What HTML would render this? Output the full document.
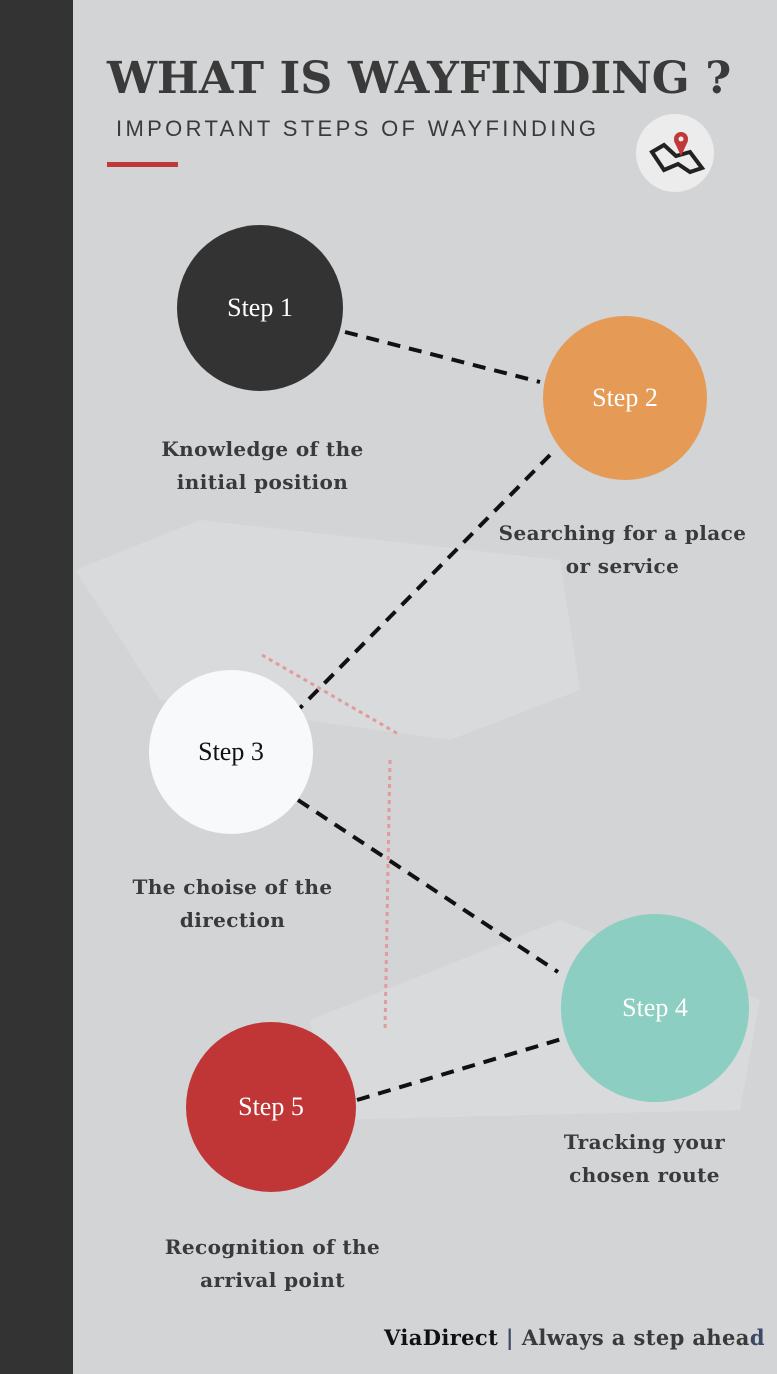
<!DOCTYPE html>
<html><head><meta charset="utf-8"><style>
body{margin:0;width:777px;height:1374px;background:#d3d4d6;position:relative;overflow:hidden;font-family:"Liberation Serif",serif}
.bar{position:absolute;left:0;top:0;width:73px;height:1374px;background:#333}
.t{position:absolute;color:#3a3a3a;white-space:nowrap}
.c{position:absolute;border-radius:50%;display:flex;align-items:center;justify-content:center;font-size:26px;color:#fff}
.lab{position:absolute;text-align:center;font-weight:bold;font-size:20px;letter-spacing:0.4px;color:#3a3a3a;line-height:33px;font-family:"DejaVu Serif","Liberation Serif",serif;white-space:nowrap}
</style></head><body>
<div class="bar"></div>
<svg width="777" height="1374" style="position:absolute;left:0;top:0">
<polygon points="75,570 200,520 560,560 580,690 450,740 160,700" fill="#dcdddf" opacity="0.6"/>
<polygon points="310,1020 560,920 760,1000 740,1110 330,1120" fill="#dcdddf" opacity="0.6"/>
<line x1="390" y1="760" x2="385" y2="1030" stroke="#e39a9a" stroke-width="3" stroke-dasharray="4,4"/>
<line x1="262" y1="655" x2="400" y2="735" stroke="#e39a9a" stroke-width="3" stroke-dasharray="4,4"/>
<g stroke="#111" stroke-width="4" stroke-dasharray="13,9">
<line x1="345" y1="332" x2="540" y2="382"/>
<line x1="550" y1="455" x2="300" y2="708"/>
<line x1="298" y1="800" x2="558" y2="972"/>
<line x1="357" y1="1100" x2="565" y2="1038"/>
</g>
<circle cx="675" cy="153" r="39" fill="#ececec"/>
<path d="M652 152 L664 145 L676 156 L690 152 L702 168 L690 172 L678 164 L664 170 Z" fill="none" stroke="#222" stroke-width="4"/>
<circle cx="681" cy="139" r="7" fill="#c0393a"/>
<path d="M674 141 L681 156 L688 141 Z" fill="#c0393a"/>
<circle cx="681" cy="139" r="2.5" fill="#ececec"/>
</svg>
<div class="t" style="left:107px;top:53px;font-size:44px;font-weight:bold;font-family:'DejaVu Serif','Liberation Serif',serif;transform-origin:0 0;transform:scaleX(1.01)">WHAT IS WAYFINDING ?</div>
<div class="t" style="left:116px;top:116px;font-size:22px;letter-spacing:3.35px;font-family:'Liberation Sans',sans-serif">IMPORTANT STEPS OF WAYFINDING</div>
<div style="position:absolute;left:107px;top:162px;width:71px;height:5px;background:#c0393a"></div>
<div class="c" style="left:177px;top:225px;width:166px;height:166px;background:#333">Step 1</div>
<div class="c" style="left:543px;top:316px;width:164px;height:164px;background:#e59a56">Step 2</div>
<div class="c" style="left:149px;top:670px;width:164px;height:164px;background:#f8f9fb;color:#111">Step 3</div>
<div class="c" style="left:561px;top:914px;width:188px;height:188px;background:#8ccfc2">Step 4</div>
<div class="c" style="left:186px;top:1022px;width:170px;height:170px;background:#c03636">Step 5</div>
<div class="lab" style="left:130px;top:433px;width:265px">Knowledge of the<br>initial position</div>
<div class="lab" style="left:490px;top:517px;width:265px">Searching for a place<br>or service</div>
<div class="lab" style="left:100px;top:871px;width:265px">The choise of the<br>direction</div>
<div class="lab" style="left:512px;top:1126px;width:265px">Tracking your<br>chosen route</div>
<div class="lab" style="left:140px;top:1231px;width:265px">Recognition of the<br>arrival point</div>
<div style="position:absolute;left:384px;top:1325px;font-size:21px;letter-spacing:0.4px;font-weight:bold;color:#111;font-family:'DejaVu Serif','Liberation Serif',serif;white-space:nowrap">ViaDirect <span style="color:#3b4a66">|</span> <span style="color:#3a3a3a">Always a step ahea</span><span style="color:#3b4a66">d</span></div>
</body></html>
